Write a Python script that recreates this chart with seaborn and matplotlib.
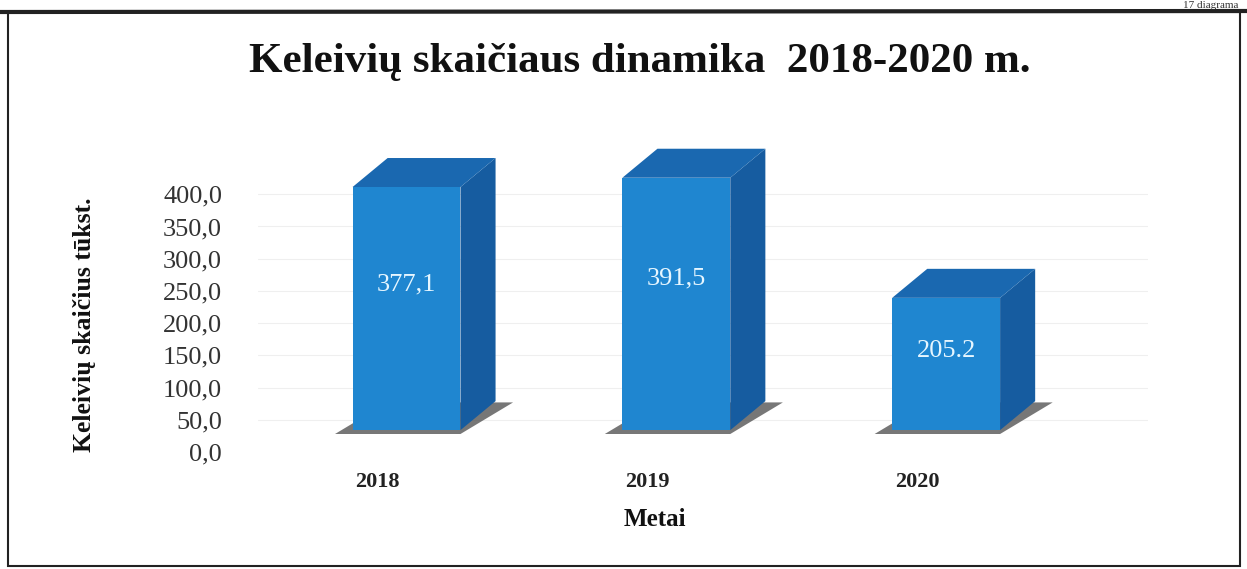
import matplotlib
matplotlib.use('Agg')
import matplotlib.pyplot as plt
import matplotlib.transforms as mtransforms
from matplotlib.patches import Polygon, Rectangle
from matplotlib.lines import Line2D
import seaborn as sns
import pandas as pd

# 数据
years = ['2018', '2019', '2020']
passengers = [377.1, 391.5, 205.2]
value_labels = ['377,1', '391,5', '205.2']
y_ticks = [0, 50, 100, 150, 200, 250, 300, 350, 400]
y_tick_labels = ['0,0', '50,0', '100,0', '150,0', '200,0', '250,0', '300,0', '350,0', '400,0']

sns.set_theme(style='white')
plt.rcParams['font.family'] = ['Liberation Serif', 'DejaVu Serif']

front_color = '#1f86d0'
top_color = '#1a68b0'
side_color = '#165ca0'
shadow_color = '#4a4a4a'

fig = plt.figure(figsize=(12.47, 5.69), dpi=100)
ax = fig.add_axes([0.207, 0.2214, 0.714, 0.5325])

df = pd.DataFrame({'Metai': years, 'Keleiviai': passengers})
sns.barplot(data=df, x='Metai', y='Keleiviai', color=front_color, saturation=1,
            width=0.4, linewidth=0, ax=ax, zorder=3)

# pseudo 3D: 上面・側面・影
dx, dyv = 0.13, 45
for p in list(ax.patches):
    x0, w, h = p.get_x(), p.get_width(), p.get_height()
    x1 = x0 + w
    ax.add_patch(Polygon([(x0 - 0.065, -6), (x1, -6), (x1 + dx + 0.065, dyv - 2), (x0 + dx, dyv - 2)],
                         closed=True, color=shadow_color, alpha=0.75, lw=0, zorder=1))
    ax.add_patch(Polygon([(x1, 0), (x1 + dx, dyv), (x1 + dx, h + dyv), (x1, h)],
                         closed=True, color=side_color, lw=0, zorder=2))
    ax.add_patch(Polygon([(x0, h), (x1, h), (x1 + dx, h + dyv), (x0 + dx, h + dyv)],
                         closed=True, color=top_color, lw=0, zorder=2))

for i, (v, lab) in enumerate(zip(passengers, value_labels)):
    ax.text(i, v * 0.6, lab, ha='center', va='center', fontsize=19,
            color='#e6f6ff', zorder=5)

ax.set_xlim(-0.55, 2.75)
ax.set_ylim(-20, 450)
for s in ax.spines.values():
    s.set_visible(False)

ax.set_yticks(y_ticks, y_tick_labels)
ax.tick_params(axis='y', length=0, pad=26, labelsize=19, labelcolor='#333333')
ax.tick_params(axis='x', length=0, pad=21, labelsize=16, labelcolor='#222222')
ax.grid(axis='y', color='#efefef', lw=0.8, zorder=0)

y_off = mtransforms.ScaledTranslation(0, -0.22, fig.dpi_scale_trans)
for t in ax.yaxis.get_major_ticks():
    t.label1.set_transform(t.label1.get_transform() + y_off)
    t.gridline.set_transform(t.gridline.get_transform() + y_off)
x_off = mtransforms.ScaledTranslation(-0.29, 0, fig.dpi_scale_trans)
for t in ax.xaxis.get_major_ticks():
    t.label1.set_transform(t.label1.get_transform() + x_off)
    t.label1.set_fontweight('bold')

ax.set_xlabel('')
ax.set_ylabel('')

fig.text(640 / 1247, 1 - 62 / 569, 'Keleivių skaičiaus dinamika  2018-2020 m.',
         ha='center', va='center', fontsize=31, fontweight='bold', color='#111111')
fig.text(85 / 1247, 1 - 325 / 569, 'Keleivių skaičius tūkst.', rotation=90,
         ha='center', va='center', fontsize=18.5, fontweight='bold', color='#111111')
fig.text(655 / 1247, 1 - 520 / 569, 'Metai', ha='center', va='center',
         fontsize=18, fontweight='bold', color='#111111')
fig.text(1238 / 1247, 1 - 10 / 569, '17 diagrama', ha='right', va='bottom',
         fontsize=8, color='#333333')

# 枠
fig.add_artist(Rectangle((8 / 1247, 3 / 569), 1232 / 1247, 554 / 569,
                         transform=fig.transFigure, fill=False, lw=1.5, ec='#222222'))
fig.add_artist(Line2D([0, 1], [1 - 12 / 569, 1 - 11 / 569], transform=fig.transFigure,
                      lw=3, color='#222222'))

fig.savefig('out.png', dpi=100)
plt.close(fig)
